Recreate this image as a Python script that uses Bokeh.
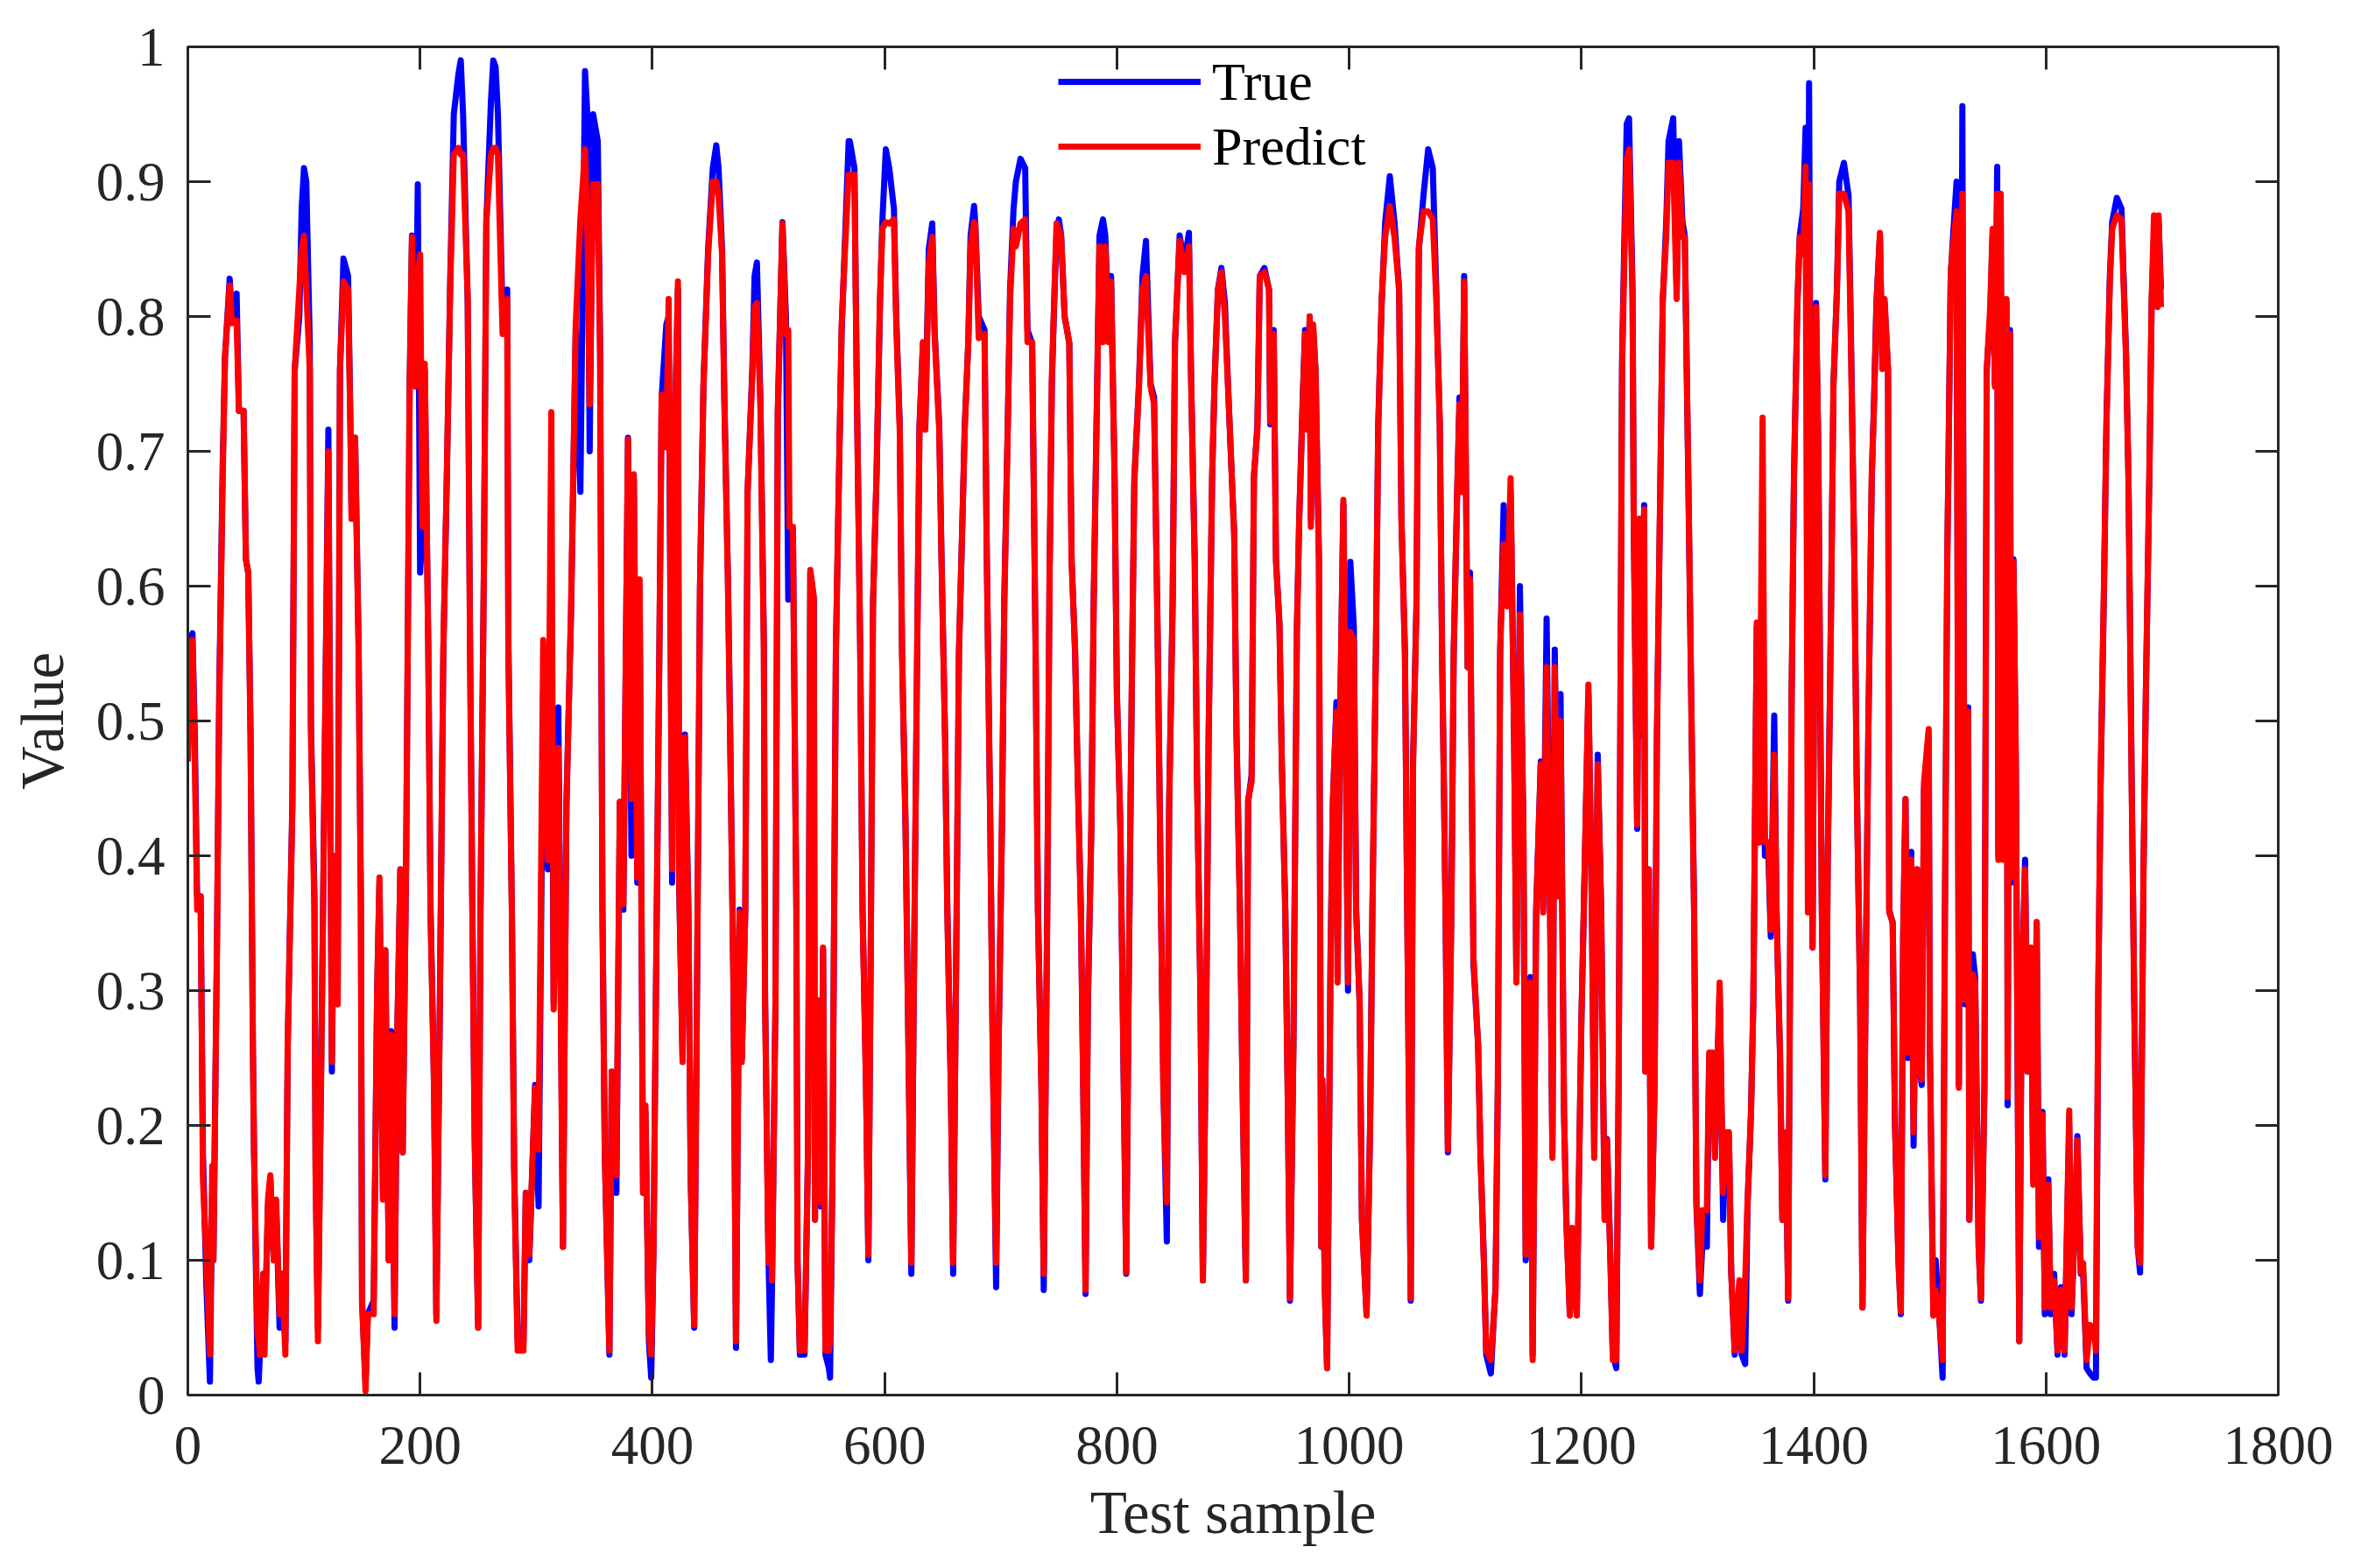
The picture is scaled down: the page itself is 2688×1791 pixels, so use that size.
from bokeh.plotting import figure
from bokeh.models import (Range1d, LinearAxis, FixedTicker, CustomJSTickFormatter,
                          Legend, LegendItem)
from bokeh.embed import file_html
from bokeh.resources import INLINE

# ---------------- data ----------------
sample = [
    0, 2, 4, 6, 8, 11, 13, 16, 19, 21,
    22, 25, 27, 30, 32, 36, 38, 42, 44, 48,
    50, 52, 54, 56, 57, 60, 61, 62, 65, 66,
    69, 71, 74, 76, 79, 81, 84, 86, 90, 92,
    96, 98, 100, 102, 105, 106, 109, 110, 112, 116,
    119, 121, 124, 126, 129, 131, 134, 138, 140, 141,
    144, 147, 149, 150, 153, 155, 160, 163, 165, 168,
    170, 173, 175, 178, 180, 183, 185, 188, 191, 193,
    196, 198, 200, 202, 204, 207, 209, 212, 214, 217,
    220, 223, 226, 229, 233, 235, 237, 241, 243, 245,
    247, 250, 252, 255, 257, 261, 263, 265, 267, 271,
    275, 276, 279, 281, 284, 289, 291, 294, 299, 302,
    306, 310, 313, 315, 319, 323, 326, 330, 334, 338,
    342, 344, 346, 349, 353, 355, 357, 359, 363, 365,
    369, 372, 375, 379, 382, 384, 387, 389, 392, 394,
    397, 399, 401, 403, 406, 408, 412, 414, 417, 419,
    422, 423, 426, 428, 431, 433, 436, 438, 441, 444,
    448, 452, 455, 457, 460, 462, 465, 467, 470, 472,
    475, 477, 480, 482, 486, 488, 490, 493, 496, 497,
    500, 502, 503, 506, 508, 512, 515, 517, 518, 521,
    524, 525, 527, 531, 534, 536, 539, 540, 542, 545,
    547, 549, 552, 553, 555, 558, 560, 563, 566, 569,
    570, 574, 576, 579, 581, 584, 586, 588, 590, 593,
    596, 598, 601, 604, 608, 610, 613, 615, 618, 620,
    623, 625, 628, 630, 633, 635, 638, 641, 643, 647,
    649, 652, 654, 657, 659, 662, 664, 667, 669, 672,
    674, 677, 678, 681, 686, 688, 691, 693, 696, 698,
    701, 703, 706, 708, 711, 713, 717, 721, 723, 727,
    730, 732, 735, 737, 740, 742, 744, 746, 748, 750,
    752, 755, 759, 761, 764, 766, 769, 771, 773, 775,
    778, 780, 783, 785, 788, 790, 793, 795, 798, 800,
    803, 805, 808, 810, 813, 815, 819, 822, 825, 829,
    832, 835, 838, 840, 843, 845, 848, 850, 854, 858,
    862, 864, 867, 869, 872, 874, 877, 879, 882, 884,
    887, 890, 893, 897, 901, 903, 906, 908, 911, 913,
    916, 918, 921, 923, 927, 931, 932, 935, 937, 940,
    942, 945, 947, 949, 952, 955, 957, 960, 962, 964,
    966, 967, 969, 971, 974, 975, 976, 977, 979, 981,
    984, 986, 989, 990, 992, 995, 999, 1001, 1004, 1006,
    1009, 1011, 1015, 1018, 1020, 1023, 1025, 1028, 1031, 1035,
    1039, 1043, 1045, 1048, 1050, 1053, 1055, 1058, 1060, 1064,
    1068, 1072, 1075, 1078, 1080, 1083, 1085, 1088, 1090, 1093,
    1095, 1097, 1099, 1102, 1104, 1107, 1111, 1113, 1116, 1118,
    1122, 1126, 1128, 1130, 1133, 1136, 1139, 1142, 1144, 1147,
    1150, 1152, 1156, 1158, 1161, 1165, 1167, 1170, 1173, 1175,
    1177, 1180, 1182, 1185, 1187, 1190, 1192, 1196, 1200, 1202,
    1206, 1209, 1211, 1214, 1217, 1220, 1222, 1225, 1227, 1230,
    1232, 1235, 1237, 1239, 1241, 1244, 1245, 1248, 1250, 1252,
    1254, 1255, 1258, 1260, 1263, 1265, 1268, 1270, 1273, 1275,
    1279, 1282, 1284, 1287, 1289, 1292, 1294, 1297, 1299, 1302,
    1304, 1308, 1310, 1313, 1315, 1319, 1322, 1324, 1327, 1329,
    1332, 1336, 1338, 1341, 1343, 1346, 1348, 1351, 1353, 1356,
    1358, 1361, 1363, 1366, 1368, 1371, 1373, 1376, 1378, 1381,
    1383, 1386, 1388, 1391, 1393, 1395, 1396, 1399, 1402, 1404,
    1407, 1410, 1412, 1415, 1417, 1420, 1422, 1426, 1430, 1432,
    1435, 1437, 1440, 1442, 1445, 1447, 1450, 1452, 1454, 1457,
    1459, 1461, 1464, 1465, 1468, 1470, 1473, 1475, 1477, 1479,
    1481, 1484, 1486, 1489, 1490, 1493, 1495, 1499, 1500, 1503,
    1505, 1508, 1511, 1513, 1515, 1518, 1520, 1523, 1525, 1528,
    1530, 1533, 1534, 1537, 1539, 1542, 1544, 1547, 1549, 1552,
    1554, 1556, 1558, 1559, 1561, 1563, 1566, 1567, 1569, 1570,
    1572, 1574, 1577, 1579, 1582, 1584, 1587, 1589, 1592, 1594,
    1597, 1599, 1602, 1604, 1607, 1610, 1613, 1616, 1620, 1622,
    1625, 1627, 1630, 1632, 1635, 1638, 1641, 1643, 1645, 1647,
    1650, 1652, 1655, 1657, 1661, 1665, 1669, 1671, 1674, 1676,
    1679, 1681, 1684, 1686, 1689, 1691, 1693, 1696, 1697, 1699,
]

predict = [
    .47, .55, .56, .47, .36, .37, .16, .10, .03, .17,
    .10, .325, .51, .68, .77, .823, .795, .797, .73, .73,
    .62, .61, .49, .26, .18, .045, .04, .03, .09, .03,
    .145, .163, .10, .145, .06, .09, .03, .26, .435, .76,
    .82, .85, .86, .82, .76, .49, .36, .163, .04, .325,
    .553, .70, .247, .40, .29, .76, .826, .82, .716, .65,
    .71, .553, .36, .07, .003, .06, .06, .30, .384, .145,
    .33, .10, .267, .06, .254, .39, .18, .397, .748, .859,
    .748, .83, .846, .644, .765, .553, .358, .228, .055, .29,
    .553, .683, .826, .92, .925, .92, .92, .813, .55, .358,
    .19, .05, .358, .62, .87, .92, .925, .925, .92, .787,
    .813, .553, .358, .163, .033, .033, .15, .104, .228, .182,
    .56, .397, .729, .286, .48, .11, .436, .585, .794, .872,
    .924, .865, .735, .898, .898, .768, .358, .182, .033, .24,
    .163, .44, .364, .709, .442, .683, .384, .605, .15, .215,
    .046, .03, .11, .293, .553, .742, .703, .813, .39, .703,
    .826, .384, .247, .488, .358, .163, .052, .254, .60, .748,
    .846, .90, .90, .89, .846, .735, .605, .488, .293, .04,
    .358, .247, .358, .67, .755, .807, .81, .735, .553, .293,
    .098, .143, .085, .293, .729, .869, .787, .79, .644, .644,
    .358, .098, .033, .033, .176, .612, .592, .13, .293, .143,
    .332, .033, .033, .04, .163, .553, .65, .794, .852, .905,
    .905, .905, .748, .553, .358, .228, .104, .325, .585, .683,
    .813, .865, .87, .869, .872, .794, .716, .553, .423, .293,
    .098, .293, .553, .716, .781, .716, .839, .859, .787, .716,
    .618, .488, .358, .228, .098, .358, .553, .65, .716, .781,
    .852, .87, .869, .784, .787, .618, .423, .26, .098, .254,
    .423, .585, .716, .813, .865, .852, .869, .872, .781, .781,
    .553, .358, .228, .09, .358, .605, .755, .813, .869, .865,
    .859, .80, .781, .618, .553, .468, .358, .228, .078, .293,
    .423, .585, .748, .852, .781, .852, .781, .826, .683, .52,
    .423, .293, .091, .293, .54, .677, .748, .82, .83, .748,
    .735, .566, .358, .228, .143, .436, .585, .781, .856, .833,
    .852, .748, .618, .455, .293, .085, .293, .488, .683, .748,
    .82, .833, .80, .722, .637, .488, .358, .24, .085, .442,
    .455, .683, .716, .83, .833, .82, .722, .787, .618, .573,
    .468, .358, .228, .072, .26, .566, .65, .735, .787, .716,
    .80, .644, .794, .761, .618, .358, .11, .234, .078, .02,
    .325, .442, .507, .306, .488, .664, .306, .566, .56, .358,
    .293, .13, .059, .195, .358, .553, .716, .813, .859, .882,
    .859, .82, .65, .553, .358, .072, .468, .585, .852, .878,
    .878, .872, .813, .722, .553, .358, .182, .358, .553, .67,
    .735, .67, .826, .54, .605, .325, .26, .182, .098, .033,
    .026, .078, .228, .553, .631, .585, .68, .488, .306, .579,
    .423, .104, .306, .026, .358, .468, .358, .54, .358, .176,
    .54, .37, .50, .208, .13, .059, .124, .059, .28, .358,
    .527, .358, .176, .468, .358, .13, .189, .098, .026, .026,
    .228, .761, .846, .917, .924, .813, .65, .423, .65, .494,
    .657, .24, .39, .11, .228, .488, .683, .813, .859, .914,
    .914, .813, .914, .859, .859, .683, .553, .358, .143, .085,
    .137, .137, .254, .254, .176, .306, .15, .195, .195, .091,
    .033, .085, .033, .085, .143, .208, .293, .573, .41, .725,
    .41, .41, .345, .475, .358, .254, .13, .195, .072, .52,
    .683, .813, .859, .846, .911, .358, .898, .332, .807, .696,
    .358, .163, .39, .585, .748, .82, .891, .891, .878, .781,
    .618, .455, .293, .065, .325, .488, .683, .735, .807, .862,
    .761, .813, .761, .358, .351, .202, .098, .062, .338, .442,
    .254, .397, .195, .39, .247, .234, .455, .494, .26, .059,
    .078, .059, .026, .358, .618, .833, .852, .878, .228, .891,
    .293, .507, .13, .312, .306, .11, .072, .228, .761, .807,
    .865, .748, .891, .397, .891, .397, .813, .221, .787, .384,
    .618, .475, .04, .293, .39, .24, .332, .156, .351, .117,
    .208, .065, .156, .065, .085, .033, .078, .033, .211, .065,
    .13, .189, .091, .098, .026, .052, .05, .033, .30, .455,
    .605, .716, .826, .865, .875, .872, .768, .683, .436, .293,
    .11, .098, .39, .52, .683, .813, .875, .807, .875, .807,
]

true = [
    .50, .56, .565, .49, .37, .37, .18, .08, .01, .15,
    .10, .33, .52, .69, .77, .828, .80, .817, .73, .73,
    .62, .61, .49, .26, .18, .02, .01, .03, .09, .04,
    .14, .16, .10, .14, .05, .09, .04, .26, .44, .76,
    .80, .88, .91, .90, .78, .50, .37, .17, .05, .33,
    .56, .716, .24, .40, .29, .76, .843, .83, .72, .65,
    .71, .56, .37, .07, .01, .06, .07, .30, .38, .15,
    .33, .10, .27, .05, .25, .39, .18, .40, .75, .86,
    .75, .898, .61, .64, .76, .56, .36, .23, .06, .29,
    .55, .68, .83, .95, .98, .99, .95, .81, .56, .36,
    .19, .05, .36, .62, .87, .96, .99, .985, .95, .80,
    .82, .56, .36, .17, .04, .04, .15, .10, .23, .14,
    .52, .39, .60, .29, .51, .11, .44, .58, .79, .67,
    .982, .95, .70, .95, .93, .78, .36, .18, .03, .24,
    .15, .44, .36, .71, .40, .68, .38, .60, .15, .21,
    .04, .013, .11, .29, .55, .74, .794, .80, .38, .70,
    .82, .38, .25, .49, .36, .16, .05, .25, .60, .75,
    .85, .91, .927, .91, .85, .74, .61, .49, .29, .035,
    .36, .25, .36, .67, .76, .83, .84, .74, .56, .30,
    .10, .026, .08, .29, .73, .87, .80, .59, .64, .64,
    .36, .10, .03, .03, .18, .61, .59, .13, .29, .14,
    .33, .03, .02, .013, .16, .55, .65, .79, .86, .93,
    .93, .91, .75, .55, .36, .23, .10, .33, .59, .68,
    .81, .87, .924, .91, .88, .80, .72, .55, .42, .29,
    .09, .29, .55, .72, .78, .72, .85, .869, .79, .72,
    .62, .49, .36, .23, .09, .36, .55, .65, .72, .78,
    .86, .882, .87, .80, .79, .62, .42, .26, .08, .25,
    .42, .59, .72, .82, .88, .90, .917, .91, .79, .78,
    .55, .36, .23, .078, .36, .61, .75, .81, .86, .872,
    .86, .80, .78, .62, .55, .47, .36, .23, .075, .29,
    .42, .59, .75, .86, .872, .86, .79, .83, .68, .52,
    .42, .29, .09, .29, .54, .68, .75, .83, .856, .75,
    .74, .57, .36, .23, .114, .44, .59, .78, .86, .84,
    .862, .75, .62, .46, .29, .085, .29, .49, .68, .75,
    .82, .836, .81, .72, .64, .49, .36, .24, .085, .44,
    .46, .68, .72, .83, .836, .82, .72, .79, .62, .57,
    .47, .36, .23, .07, .26, .57, .65, .74, .79, .72,
    .80, .65, .79, .76, .62, .36, .11, .23, .08, .02,
    .33, .44, .514, .31, .49, .66, .30, .618, .57, .36,
    .29, .13, .06, .20, .36, .55, .72, .81, .87, .904,
    .87, .82, .65, .55, .36, .07, .47, .59, .85, .89,
    .924, .91, .82, .72, .55, .36, .18, .36, .55, .67,
    .74, .67, .83, .54, .61, .32, .26, .18, .10, .03,
    .016, .08, .23, .55, .66, .59, .67, .49, .31, .60,
    .42, .10, .31, .03, .36, .47, .36, .576, .36, .18,
    .553, .37, .52, .21, .13, .06, .12, .06, .28, .36,
    .52, .36, .18, .475, .36, .13, .19, .10, .03, .02,
    .23, .77, .86, .943, .947, .82, .65, .42, .65, .49,
    .66, .24, .39, .11, .23, .49, .68, .81, .87, .93,
    .947, .82, .93, .87, .86, .68, .55, .36, .14, .075,
    .11, .11, .25, .25, .18, .30, .13, .19, .19, .09,
    .03, .08, .03, .023, .14, .21, .29, .57, .41, .50,
    .40, .40, .34, .504, .36, .25, .13, .19, .07, .52,
    .68, .81, .86, .88, .94, .70, .973, .332, .81, .70,
    .36, .16, .39, .59, .75, .82, .90, .914, .89, .79,
    .62, .46, .29, .065, .33, .49, .68, .74, .81, .86,
    .77, .81, .76, .36, .35, .20, .10, .06, .34, .442,
    .25, .403, .185, .39, .25, .23, .45, .49, .26, .06,
    .10, .06, .013, .36, .62, .83, .86, .90, .23, .956,
    .29, .51, .13, .327, .31, .11, .07, .23, .76, .80,
    .86, .75, .911, .40, .89, .40, .81, .215, .79, .38,
    .62, .47, .04, .29, .397, .24, .33, .16, .35, .11,
    .21, .06, .16, .06, .09, .03, .08, .03, .20, .06,
    .13, .192, .09, .09, .02, .016, .013, .013, .29, .45,
    .60, .72, .83, .87, .888, .88, .77, .68, .44, .29,
    .11, .091, .39, .52, .68, .81, .86, .81, .87, .82,
]

x_ticks = [0, 200, 400, 600, 800, 1000, 1200, 1400, 1600, 1800]
y_ticks = [0, 0.1, 0.2, 0.3, 0.4, 0.5, 0.6, 0.7, 0.8, 0.9, 1.0]
series_names = ["True", "Predict"]

# ---------------- styling ----------------
FONT = "Liberation Serif"
AXC = "#262626"

p = figure(width=2672, height=1775, output_backend="svg", toolbar_location=None,
           x_range=Range1d(0, 1800), y_range=Range1d(0, 1),
           min_border_left=214, min_border_right=71,
           min_border_top=53, min_border_bottom=182)
p.grid.visible = False
p.background_fill_color = "white"
p.border_fill_color = "white"
p.outline_line_color = AXC
p.outline_line_width = 3


def style_axis(ax, ticks):
    ax.ticker = FixedTicker(ticks=ticks)
    ax.axis_line_color = AXC
    ax.axis_line_width = 3
    ax.major_tick_line_color = AXC
    ax.major_tick_line_width = 3
    ax.major_tick_in = 26
    ax.major_tick_out = 0
    ax.minor_tick_line_color = None
    ax.major_label_text_font = FONT
    ax.major_label_text_font_size = "63px"
    ax.major_label_text_color = AXC
    ax.axis_label_text_font = FONT
    ax.axis_label_text_font_size = "69px"
    ax.axis_label_text_font_style = "normal"
    ax.axis_label_text_color = AXC


xb = p.below[0]
yl = p.left[0]
style_axis(xb, x_ticks)
style_axis(yl, y_ticks)
yl.formatter = CustomJSTickFormatter(code="return (Math.round(tick*10)/10).toString();")
xb.axis_label = "Test sample"
yl.axis_label = "Value"
xb.major_label_standoff = 36
xb.axis_label_standoff = 15
yl.major_label_standoff = 26
yl.axis_label_standoff = 20

blank = "return '';"
xt = LinearAxis(formatter=CustomJSTickFormatter(code=blank))
style_axis(xt, x_ticks)
xt.major_label_standoff = 0
p.add_layout(xt, "above")
yr = LinearAxis(formatter=CustomJSTickFormatter(code=blank))
style_axis(yr, y_ticks)
yr.major_label_standoff = 0
p.add_layout(yr, "right")

r_true = p.line(sample, true, line_color="#0000FF", line_width=7, line_join="round")
r_pred = p.line(sample, predict, line_color="#FF0000", line_width=7, line_join="round")

legend = Legend(items=[LegendItem(label=series_names[0], renderers=[r_true]),
                       LegendItem(label=series_names[1], renderers=[r_pred])],
                location=(994, 1389), orientation="vertical",
                border_line_color=None, background_fill_alpha=0,
                padding=0, margin=0, spacing=0,
                glyph_width=163, glyph_height=74, label_height=74,
                label_standoff=13, label_text_font=FONT,
                label_text_font_size="62px", label_text_color="black")
p.add_layout(legend)

open("out.html", "w").write(file_html(p, INLINE))
